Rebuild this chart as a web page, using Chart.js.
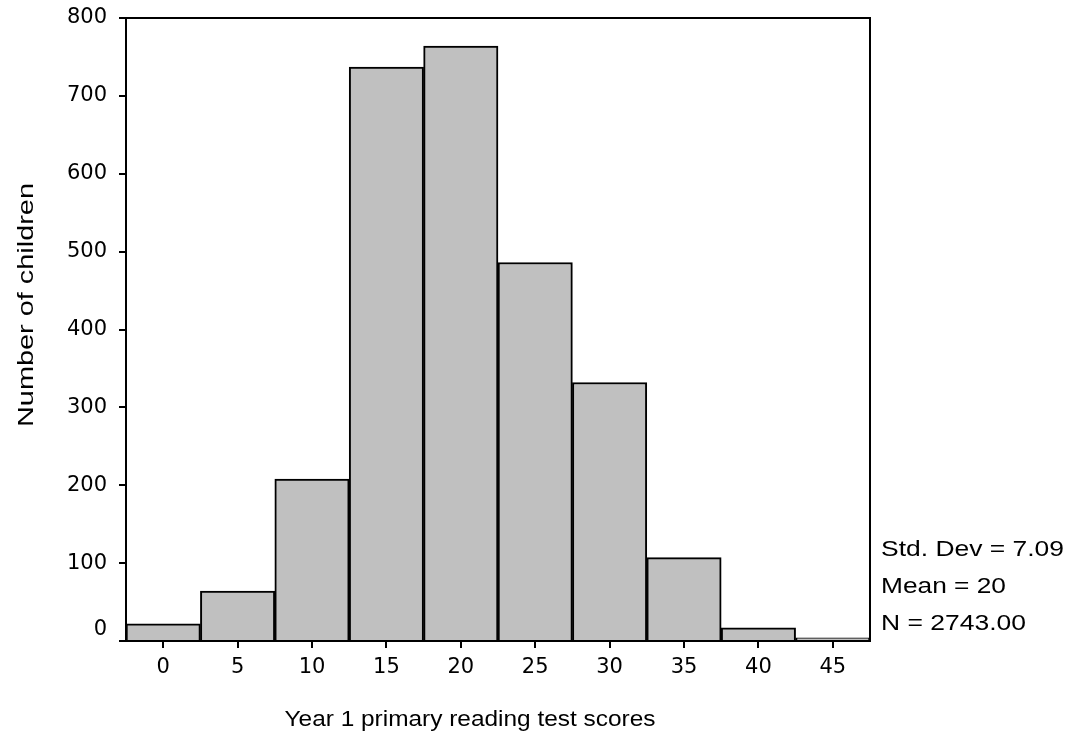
<!DOCTYPE html>
<html>
<head>
<meta charset="utf-8">
<script src="https://cdn.jsdelivr.net/npm/chart.js@4.4.0/dist/chart.umd.min.js"></script>
<style>
  body { margin: 0; background: #fff; }
  #wrap { width: 1074px; height: 744px; }
</style>
</head>
<body>
<div id="wrap"><canvas id="hist"></canvas></div>
<script>
// --- Data ---
const binLabels = ['0', '5', '10', '15', '20', '25', '30', '35', '40', '45'];
const counts = [22, 64, 208, 737, 764, 486, 332, 107, 17, 4];
const yTicks = [0, 100, 200, 300, 400, 500, 600, 700, 800];
const statLines = ['Std. Dev = 7.09', 'Mean = 20', 'N = 2743.00'];
const xTitle = 'Year 1 primary reading test scores';
const yTitle = 'Number of children';

const FONT = "'Liberation Sans', Arial, sans-serif";
const TICK_FONT = "'DejaVu Sans', sans-serif";

// draw text squeezed/stretched to a target width (the source has wide text)
function fitText(ctx, text, x, y, width) {
    const w = ctx.measureText(text).width;
    ctx.save();
    ctx.translate(x, y);
    ctx.scale(width / w, 1);
    ctx.fillText(text, 0, 0);
    ctx.restore();
}

const extras = {
    id: 'extras',
    afterDraw(chart) {
        const { ctx, chartArea: a } = chart;
        ctx.save();
        // frame: top and right
        ctx.strokeStyle = '#000';
        ctx.lineWidth = 2;
        ctx.beginPath();
        ctx.moveTo(a.left, a.top);
        ctx.lineTo(a.right, a.top);
        ctx.lineTo(a.right, a.bottom);
        ctx.stroke();

        ctx.fillStyle = '#000';

        // zero label sits a little above its tick
        const y0 = chart.scales.y.getPixelForValue(0);
        ctx.font = '21px ' + TICK_FONT;
        ctx.textAlign = 'right';
        ctx.textBaseline = 'middle';
        ctx.fillText('0', 107, y0 - 11);

        // stats box
        ctx.font = '22px ' + FONT;
        ctx.textAlign = 'left';
        ctx.textBaseline = 'alphabetic';
        fitText(ctx, statLines[0], a.right + 11, 556, 183);
        fitText(ctx, statLines[1], a.right + 11, 593, 125);
        fitText(ctx, statLines[2], a.right + 11, 630, 145);

        // axis titles
        ctx.textAlign = 'center';
        fitText(ctx, xTitle, 470, 726, 371);
        ctx.translate(33, 305);
        ctx.rotate(-Math.PI / 2);
        fitText(ctx, yTitle, 0, 0, 244);
        ctx.restore();
    }
};

new Chart(document.getElementById('hist'), {
    type: 'bar',
    data: {
        labels: binLabels,
        datasets: [{
            data: counts,
            backgroundColor: '#c0c0c0',
            borderColor: '#000',
            borderWidth: 2,
            borderSkipped: 'bottom',
            barPercentage: 1,
            categoryPercentage: 1
        }]
    },
    options: {
        responsive: true,
        maintainAspectRatio: false,
        animation: false,
        layout: { padding: { top: 18, right: 204, left: 0, bottom: 0 } },
        plugins: { legend: { display: false }, tooltip: { enabled: false } },
        scales: {
            x: {
                offset: true,
                grid: { offset: false, drawOnChartArea: false, color: '#000', lineWidth: 2, tickLength: 7 },
                border: { display: true, color: '#000', width: 2 },
                ticks: { color: '#000', padding: 7, font: { family: TICK_FONT, size: 21 }, maxRotation: 0 },
                afterFit(s) { s.height = 103; s.paddingLeft = 0; s.paddingRight = 0; }
            },
            y: {
                min: 0,
                max: 800,
                afterBuildTicks(s) { s.ticks = yTicks.map(v => ({ value: v })); },
                grid: { drawOnChartArea: false, color: '#000', lineWidth: 2, tickLength: 7 },
                border: { display: true, color: '#000', width: 2 },
                ticks: {
                    color: '#000', padding: 12, font: { family: TICK_FONT, size: 21 },
                    callback: v => (v === 0 ? '' : v)
                },
                afterFit(s) { s.width = 126; s.paddingTop = 0; s.paddingBottom = 0; }
            }
        }
    },
    plugins: [extras]
});
</script>
</body>
</html>
